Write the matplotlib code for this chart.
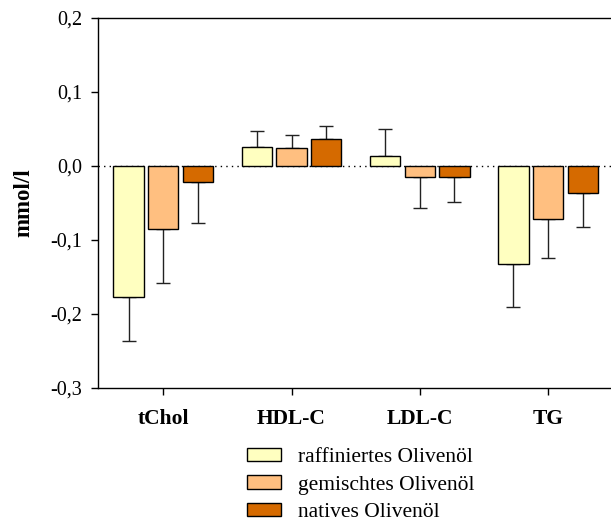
import numpy as np
import matplotlib
matplotlib.use("Agg")
import matplotlib.pyplot as plt

plt.rcParams['font.family'] = ['Liberation Serif', 'DejaVu Serif']

groups = ['tChol', 'HDL-C', 'LDL-C', 'TG']
series = ['raffiniertes Olivenöl', 'gemischtes Olivenöl', 'natives Olivenöl']
raff = [-0.177, 0.025, 0.0135, -0.133]
gem = [-0.0855, 0.024, -0.015, -0.072]
nat = [-0.022, 0.037, -0.015, -0.037]
raff_err = [0.059, 0.022, 0.036, 0.058]
gem_err = [0.072, 0.018, 0.042, 0.052]
nat_err = [0.055, 0.017, 0.034, 0.046]
colors = ['#FFFFC0', '#FFBF80', '#D56A00']
yticks = [-0.3, -0.2, -0.1, 0.0, 0.1, 0.2]

fig = plt.figure(figsize=[6.11, 5.21], dpi=100)
ax = fig.add_axes([0.160, 0.2553, 0.840, 0.7102])

x = np.arange(len(groups))
offs = [-0.27, 0.0, 0.27]
width = 0.235
for vals, errs, col, off, lab in zip([raff, gem, nat], [raff_err, gem_err, nat_err],
                                     colors, offs, series):
    vals = np.array(vals)
    errs = np.array(errs)
    ax.bar(x + off, vals, width, color=col, edgecolor='black', linewidth=1.0,
           label=lab, zorder=2)
    # error bars only point away from zero
    lower = np.where(vals < 0, errs, 0)
    upper = np.where(vals > 0, errs, 0)
    ax.errorbar(x + off, vals, yerr=[lower, upper], fmt='none', ecolor='#222222',
                elinewidth=1.0, capsize=5, capthick=1.0, zorder=1)

ax.axhline(0, color='black', linestyle=(0, (1, 3)), linewidth=1.0, zorder=0)
ax.set_xlim(-0.51, 3.49)
ax.set_ylim(-0.3, 0.2)
ax.set_yticks(yticks)
ax.set_yticklabels([('%.1f' % v).replace('.', ',') for v in yticks], fontsize=14.5)
ax.set_xticks(x)
ax.set_xticklabels(groups, fontsize=15.5, fontweight='bold')
ax.tick_params(direction='out', length=5, width=1.0)
ax.tick_params(axis='x', pad=10)
ax.tick_params(axis='y', pad=6)
ax.spines['right'].set_visible(False)
for s in ['left', 'top', 'bottom']:
    ax.spines[s].set_linewidth(1.0)
ax.set_ylabel('mmol/l', fontsize=16.5, fontweight='bold', labelpad=12)

fig.legend(loc='upper left', bbox_to_anchor=(247/611, 1 - 448/521), frameon=False,
           fontsize=15.5, handlelength=1.6, handleheight=0.58, handletextpad=0.75,
           labelspacing=0.38, borderpad=0, borderaxespad=0)

plt.savefig('out.png')
